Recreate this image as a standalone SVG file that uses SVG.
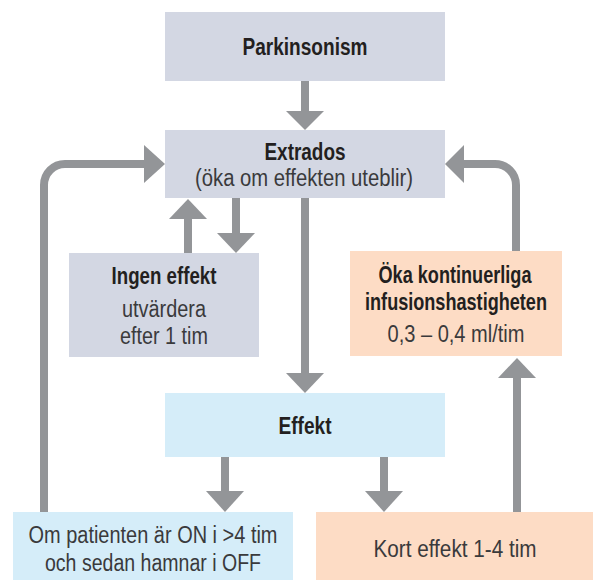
<svg xmlns="http://www.w3.org/2000/svg" width="593" height="580" viewBox="0 0 593 580">
<style>
.gray{fill:#D3D7E3}
.blue{fill:#D5EDF9}
.peach{fill:#FDDCC5}
.b{font-family:"Liberation Sans",Arial,sans-serif;font-weight:bold;font-size:23.5px;fill:#231F20;text-anchor:middle}
.r{font-family:"Liberation Sans",Arial,sans-serif;font-weight:normal;font-size:23px;fill:#3A3A3C;text-anchor:middle}
.line{fill:none;stroke:#939598;stroke-width:8}
.head{fill:#939598}
</style>
<rect width="593" height="580" fill="#FFFFFF"/>
<g id="connectors">
  <line class="line" x1="305" y1="81" x2="305" y2="112"/>
  <polygon class="head" points="286,111 324,111 305,130"/>
  <path class="line" d="M44,512 V185 A21,21 0 0 1 65,164 H146"/>
  <polygon class="head" points="144,145 165,164 144,183"/>
  <path class="line" d="M516,251 V185 A21,21 0 0 0 495,164 H462"/>
  <polygon class="head" points="464,145 445,164 464,183"/>
  <line class="line" x1="188" y1="253" x2="188" y2="218"/>
  <polygon class="head" points="169,219 207,219 188,199"/>
  <line class="line" x1="236" y1="198" x2="236" y2="234"/>
  <polygon class="head" points="217,233 255,233 236,253"/>
  <line class="line" x1="305" y1="198" x2="305" y2="374"/>
  <polygon class="head" points="286,373 324,373 305,393"/>
  <line class="line" x1="517" y1="512" x2="517" y2="377"/>
  <polygon class="head" points="498,378 536,378 517,358"/>
  <line class="line" x1="225" y1="457" x2="225" y2="492"/>
  <polygon class="head" points="206,491 244,491 225,512"/>
  <line class="line" x1="384" y1="457" x2="384" y2="492"/>
  <polygon class="head" points="365,491 403,491 384,512"/>
</g>
<g id="parkinsonism">
  <rect class="gray" x="165" y="12" width="280" height="69"/>
  <text class="b" x="305" y="55" textLength="125" lengthAdjust="spacingAndGlyphs">Parkinsonism</text>
</g>
<g id="extrados">
  <rect class="gray" x="165" y="130" width="280" height="68"/>
  <text class="b" x="305" y="160" textLength="81" lengthAdjust="spacingAndGlyphs">Extrados</text>
  <text class="r" x="304" y="186" textLength="218" lengthAdjust="spacingAndGlyphs">(öka om effekten uteblir)</text>
</g>
<g id="ingen-effekt">
  <rect class="gray" x="69" y="253" width="190" height="104"/>
  <text class="b" x="164" y="284" textLength="105" lengthAdjust="spacingAndGlyphs">Ingen effekt</text>
  <text class="r" x="164" y="317" textLength="84" lengthAdjust="spacingAndGlyphs">utvärdera</text>
  <text class="r" x="164" y="344" textLength="88" lengthAdjust="spacingAndGlyphs">efter 1 tim</text>
</g>
<g id="oka">
  <rect class="peach" x="350" y="251" width="212" height="105"/>
  <text class="b" x="455" y="283" textLength="153" lengthAdjust="spacingAndGlyphs">Öka kontinuerliga</text>
  <text class="b" transform="translate(456,310) scale(0.77,1)" x="0" y="0">infusionshastigheten</text>
  <text class="r" x="456" y="342" textLength="137" lengthAdjust="spacingAndGlyphs">0,3 – 0,4 ml/tim</text>
</g>
<g id="effekt">
  <rect class="blue" x="165" y="393" width="280" height="64"/>
  <text class="b" x="305" y="434" textLength="53" lengthAdjust="spacingAndGlyphs">Effekt</text>
</g>
<g id="om-patienten">
  <rect class="blue" x="13" y="512" width="280" height="68"/>
  <text class="r" x="153" y="543" textLength="249" lengthAdjust="spacingAndGlyphs">Om patienten är ON i &gt;4 tim</text>
  <text class="r" x="153" y="571" textLength="216" lengthAdjust="spacingAndGlyphs">och sedan hamnar i OFF</text>
</g>
<g id="kort-effekt">
  <rect class="peach" x="316" y="512" width="277" height="68"/>
  <text class="r" x="455" y="557" textLength="163" lengthAdjust="spacingAndGlyphs">Kort effekt 1-4 tim</text>
</g>
</svg>
